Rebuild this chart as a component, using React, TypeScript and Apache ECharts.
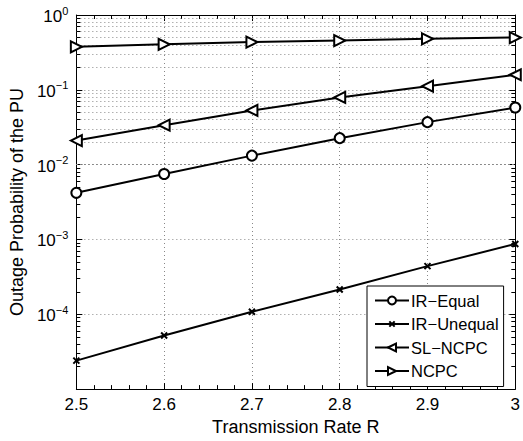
import React, { useEffect, useRef } from "react";
import * as echarts from "echarts";

const rates = [2.5, 2.6, 2.7, 2.8, 2.9, 3.0];
const irEqual = [0.0042, 0.0075, 0.0132, 0.0226, 0.037, 0.058];
const irUnequal = [2.4e-5, 5.2e-5, 1.08e-4, 2.14e-4, 4.4e-4, 8.7e-4];
const slNcpc = [0.021, 0.0337, 0.053, 0.079, 0.112, 0.159];
const ncpc = [0.376, 0.405, 0.435, 0.455, 0.48, 0.5];
const seriesNames = ["IR\u2212Equal", "IR\u2212Unequal", "SL\u2212NCPC", "NCPC"];
const minorGridValues: number[] = [];
for (let d = -5; d <= -1; d++) {
  for (let k = 2; k <= 9; k++) minorGridValues.push(k * Math.pow(10, d));
}

const FONT = "Liberation Sans, Arial, Helvetica, sans-serif";
const crossPath = "path://M-2.5,-2.5M0,0L10,10M10,0L0,10M12.5,12.5";

export default function App() {
  const ref = useRef<HTMLDivElement>(null);
  useEffect(() => {
    if (!ref.current) return;
    const chart = echarts.init(ref.current, undefined, { renderer: "svg" });
    const pair = (arr: number[]) => rates.map((r, i) => [r, arr[i]]);
    const gridLine = { color: "#888", width: 1, type: [1, 3] as any };
    const xMin = rates[0];
    const xMax = rates[rates.length - 1];
    const tickLen = 0.0045;
    const minorTickLines: any[] = [];
    minorGridValues.forEach((v) => {
      minorTickLines.push([{ coord: [xMin, v] }, { coord: [xMin + tickLen, v] }]);
      minorTickLines.push([{ coord: [xMax - tickLen, v] }, { coord: [xMax, v] }]);
    });
    const base = {
      type: "line",
      xAxisIndex: 0,
      yAxisIndex: 0,
      lineStyle: { color: "#000", width: 2 },
      itemStyle: { color: "#000", borderColor: "#000", borderWidth: 2 },
      symbolSize: 10,
      z: 5,
    };
    chart.setOption({
      animation: false,
      backgroundColor: "#fff",
      textStyle: { fontFamily: FONT },
      grid: { left: 71, right: 5, top: 15, bottom: 49 },
      legend: {
        left: 367,
        top: 286,
        orient: "vertical",
        backgroundColor: "#fff",
        borderColor: "#000",
        borderWidth: 1,
        borderRadius: 0,
        padding: [6, 5, 7, 7],
        itemGap: 6.5,
        itemWidth: 34,
        itemHeight: 10,
        textStyle: { fontSize: 16.5, color: "#000", fontFamily: FONT, padding: [0, 0, 0, -3] },
        data: seriesNames,
      },
      xAxis: [
        {
          type: "value",
          min: 2.5,
          max: 3,
          interval: 0.1,
          name: "Transmission Rate R",
          nameLocation: "middle",
          nameGap: 25,
          nameTextStyle: { fontSize: 18, color: "#000", fontFamily: FONT },
          axisLine: { lineStyle: { color: "#000", width: 1 } },
          axisTick: { inside: true, length: 6, lineStyle: { color: "#000" } },
          minorTick: { show: true, splitNumber: 5, length: 4, lineStyle: { color: "#000" } },
          axisLabel: {
            fontSize: 17,
            color: "#000",
            margin: 7,
            fontFamily: FONT,
            formatter: (v: number) => String(Number(v.toFixed(1))),
          },
          splitLine: { show: true, lineStyle: gridLine },
        },
        {
          type: "value",
          position: "top",
          min: 2.5,
          max: 3,
          interval: 0.1,
          axisLine: { show: true, lineStyle: { color: "#000", width: 1 } },
          axisTick: { inside: true, length: 6, lineStyle: { color: "#000" } },
          minorTick: { show: true, splitNumber: 5, length: 4, lineStyle: { color: "#000" } },
          axisLabel: { show: false },
          splitLine: { show: false },
        },
      ],
      yAxis: [
        {
          type: "log",
          logBase: 10,
          min: 1e-5,
          max: 1,
          name: "Outage Probability of the PU",
          nameLocation: "middle",
          nameGap: 47,
          nameTextStyle: { fontSize: 18, color: "#000", fontFamily: FONT },
          axisLine: { show: true, lineStyle: { color: "#000", width: 1 } },
          axisTick: { show: true, inside: true, length: 6, lineStyle: { color: "#000" } },
          axisLabel: {
            color: "#000",
            margin: 8,
            showMinLabel: false,
            formatter: (v: number) => {
              const e = Math.round(Math.log10(v));
              const es = e < 0 ? "\u2212" + String(-e) : String(e);
              return "{b|10}{s|" + es + "}";
            },
            rich: {
              b: { fontSize: 17, color: "#000", fontFamily: FONT, verticalAlign: "bottom", lineHeight: 20 },
              s: { fontSize: 11, color: "#000", fontFamily: FONT, verticalAlign: "top", lineHeight: 20, padding: [0, 0, 10, 0] },
            },
          },
          splitLine: { show: true, lineStyle: gridLine },
        },
        {
          type: "log",
          logBase: 10,
          min: 1e-5,
          max: 1,
          position: "right",
          axisLine: { show: true, lineStyle: { color: "#000", width: 1 } },
          axisTick: { show: true, inside: true, length: 6, lineStyle: { color: "#000" } },
          axisLabel: { show: false },
          splitLine: { show: false },
        },
      ],
      series: [
        {
          ...base,
          name: seriesNames[0],
          symbol: "emptyCircle",
          data: pair(irEqual),
          markLine: {
            silent: true,
            symbol: "none",
            label: { show: false },
            lineStyle: { color: "#888", width: 1, type: [1, 3] },
            z: 1,
            data: minorGridValues.map((v) => ({ yAxis: v })),
          },
        },
        {
          ...base,
          name: seriesNames[1],
          symbol: crossPath,
          symbolSize: 9,
          itemStyle: { color: "#000", borderColor: "#000", borderWidth: 2 },
          data: pair(irUnequal),
          markLine: {
            silent: true,
            symbol: "none",
            label: { show: false },
            lineStyle: { color: "#000", width: 1, type: "solid" },
            z: 2,
            data: minorTickLines,
          },
        },
        {
          ...base,
          name: seriesNames[2],
          symbol: "emptyTriangle",
          symbolRotate: 90,
          symbolSize: 11,
          data: pair(slNcpc),
        },
        {
          ...base,
          name: seriesNames[3],
          symbol: "emptyTriangle",
          symbolRotate: -90,
          symbolSize: 11,
          data: pair(ncpc),
        },
      ],
    });
    return () => chart.dispose();
  }, []);
  return <div ref={ref} style={{ width: 523, height: 441, position: "absolute", left: 0, top: 0 }} />;
}
